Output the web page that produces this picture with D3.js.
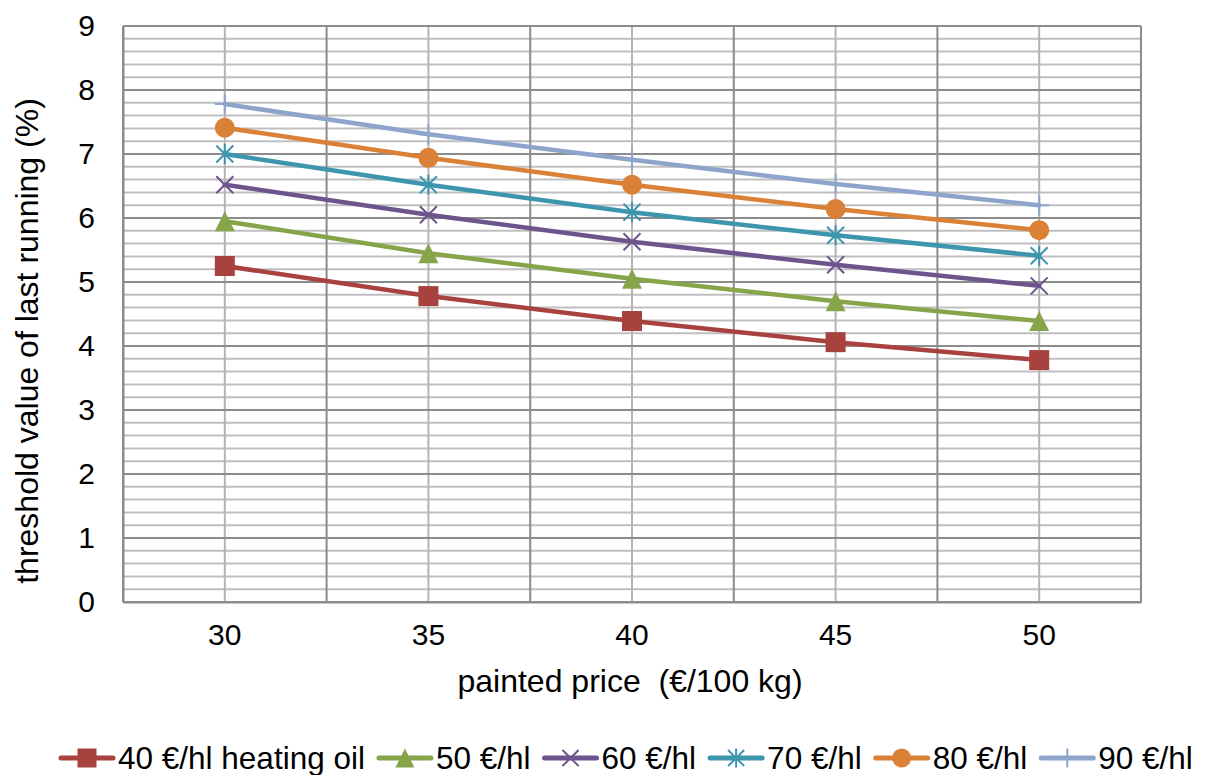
<!DOCTYPE html>
<html>
<head>
<meta charset="utf-8">
<script src="https://cdn.jsdelivr.net/npm/d3@7"></script>
<style>
  html, body { margin: 0; padding: 0; background: #fff; }
  svg text { font-family: "Liberation Sans", Arial, sans-serif; fill: #000; }
</style>
</head>
<body>
<svg id="chart" width="1205" height="775"></svg>
<script>
// Painted price categories (€/100 kg)
const categories = ["30", "35", "40", "45", "50"];

// Threshold value of last running (%) for each heating-oil price
const seriesNames = ["40 €/hl heating oil", "50 €/hl", "60 €/hl", "70 €/hl", "80 €/hl", "90 €/hl"];
const oil40 = [5.25, 4.78, 4.39, 4.06, 3.78];
const oil50 = [5.95, 5.45, 5.05, 4.70, 4.39];
const oil60 = [6.52, 6.05, 5.63, 5.27, 4.94];
const oil70 = [7.00, 6.52, 6.09, 5.73, 5.41];
const oil80 = [7.41, 6.94, 6.52, 6.14, 5.81];
const oil90 = [7.78, 7.31, 6.91, 6.53, 6.20];

const yTicks = [0, 1, 2, 3, 4, 5, 6, 7, 8, 9];

const seriesValues = [oil40, oil50, oil60, oil70, oil80, oil90];
const colors = ["#A8423F", "#86A44A", "#6E548D", "#3D96AE", "#DA8137", "#8EA5CB"];
const markers = ["square", "triangle", "x", "star", "circle", "plus"];

const svg = d3.select("#chart");
const plot = { left: 123, right: 1141, top: 26, bottom: 602 };

const x = d3.scaleBand().domain(categories).range([plot.left, plot.right]).padding(0);
const y = d3.scaleLinear().domain([0, 9]).range([plot.bottom, plot.top]);
const cx = c => x(c) + x.bandwidth() / 2;

// Gridlines
const grid = svg.append("g");
const minorY = d3.range(0, 9.0001, 0.2).filter(v => Math.abs(v - Math.round(v)) > 1e-6);
grid.selectAll("line.minor-y").data(minorY).join("line")
  .attr("x1", plot.left).attr("x2", plot.right)
  .attr("y1", d => y(d)).attr("y2", d => y(d))
  .attr("stroke", "#bfbfbf").attr("stroke-width", 2);
grid.selectAll("line.minor-x").data(categories).join("line")
  .attr("x1", d => cx(d)).attr("x2", d => cx(d))
  .attr("y1", plot.top).attr("y2", plot.bottom)
  .attr("stroke", "#b4b4b4").attr("stroke-width", 2);
grid.selectAll("line.major-y").data(yTicks).join("line")
  .attr("x1", plot.left).attr("x2", plot.right)
  .attr("y1", d => y(d)).attr("y2", d => y(d))
  .attr("stroke", "#8c8c8c").attr("stroke-width", 2);
const bounds = categories.map(c => x(c)).concat([plot.right]);
grid.selectAll("line.major-x").data(bounds).join("line")
  .attr("x1", d => d).attr("x2", d => d)
  .attr("y1", plot.top).attr("y2", plot.bottom)
  .attr("stroke", "#8c8c8c").attr("stroke-width", 2);

// Axes
const yAxis = d3.axisLeft(y).tickValues(yTicks).tickSize(0).tickPadding(28);
svg.append("g").attr("transform", `translate(${plot.left},0)`).call(yAxis)
  .call(g => g.select(".domain").attr("stroke", "#8c8c8c").attr("stroke-width", 2))
  .call(g => g.selectAll("text").attr("font-size", 30).attr("font-family", "Liberation Sans, Arial, sans-serif"));

const xAxis = d3.axisBottom(x).tickSize(0).tickPadding(22);
svg.append("g").attr("transform", `translate(0,${plot.bottom})`).call(xAxis)
  .call(g => g.select(".domain").attr("stroke", "#8c8c8c").attr("stroke-width", 2))
  .call(g => g.selectAll("text").attr("font-size", 30).attr("font-family", "Liberation Sans, Arial, sans-serif"));

// Axis titles
svg.append("text")
  .attr("x", 630).attr("y", 692)
  .attr("text-anchor", "middle").attr("font-size", 32)
  .style("white-space", "pre")
  .text("painted price  (€/100 kg)");
svg.append("text")
  .attr("transform", "translate(38,341) rotate(-90)")
  .attr("text-anchor", "middle").attr("font-size", 32)
  .text("threshold value of last running (%)");

// Marker drawing
function drawMarker(g, type, color, size) {
  const h = size / 2;
  if (type === "square") {
    g.append("rect").attr("x", -h).attr("y", -h).attr("width", size).attr("height", size).attr("fill", color);
  } else if (type === "triangle") {
    g.append("path").attr("d", `M0,${-h}L${h},${h}L${-h},${h}Z`).attr("fill", color);
  } else if (type === "circle") {
    g.append("circle").attr("r", h).attr("fill", color);
  } else if (type === "x") {
    const k = h * 0.85;
    g.append("path").attr("d", `M${-k},${-k}L${k},${k}M${-k},${k}L${k},${-k}`)
      .attr("stroke", color).attr("stroke-width", 2).attr("fill", "none");
  } else if (type === "star") {
    const k = h * 0.85;
    g.append("path").attr("d", `M${-k},${-k}L${k},${k}M${-k},${k}L${k},${-k}M0,${-h}L0,${h}`)
      .attr("stroke", color).attr("stroke-width", 2).attr("fill", "none");
  } else if (type === "plus") {
    g.append("path").attr("d", `M${-h},0L${h},0M0,${-h}L0,${h}`)
      .attr("stroke", color).attr("stroke-width", 2).attr("fill", "none");
  }
}

// Series lines and markers
const line = d3.line().x((d, i) => cx(categories[i])).y(d => y(d));
seriesValues.forEach((vals, si) => {
  const g = svg.append("g");
  g.append("path").datum(vals).attr("d", line)
    .attr("fill", "none").attr("stroke", colors[si]).attr("stroke-width", 4.5)
    .attr("stroke-linejoin", "round").attr("stroke-linecap", "round");
  vals.forEach((v, i) => {
    const m = g.append("g").attr("transform", `translate(${cx(categories[i])},${y(v)})`);
    drawMarker(m, markers[si], colors[si], 20);
  });
});

// Legend
const legend = svg.append("g").attr("transform", "translate(0,758)");
let lx = 59;
seriesNames.forEach((name, si) => {
  const item = legend.append("g").attr("transform", `translate(${lx},0)`);
  item.append("line").attr("x1", 2).attr("x2", 54).attr("y1", 0).attr("y2", 0)
    .attr("stroke", colors[si]).attr("stroke-width", 5).attr("stroke-linecap", "round");
  drawMarker(item.append("g").attr("transform", "translate(28,0)"), markers[si], colors[si], 19);
  const t = item.append("text").attr("x", 59).attr("y", 11).attr("font-size", 31.5).text(name);
  lx += 59 + t.node().getComputedTextLength() + 12;
});
</script>
</body>
</html>
